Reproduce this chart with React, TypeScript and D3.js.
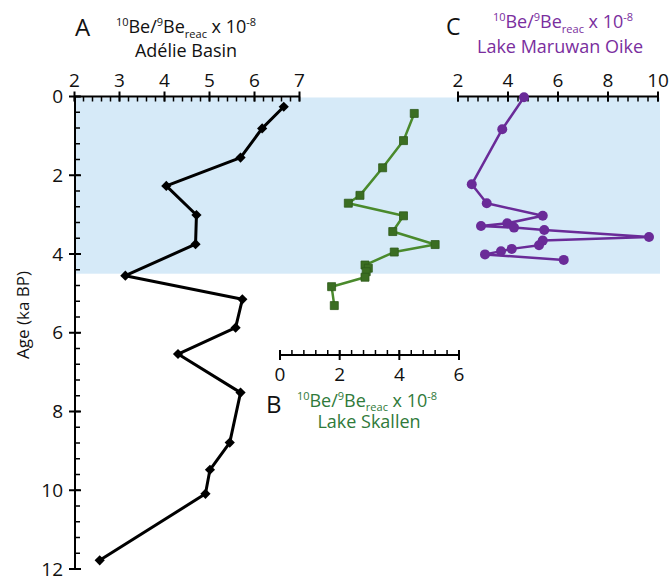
import React from "react";
import * as d3 from "d3";

// Panel A: Adélie Basin
const adelieAge = [0.26, 0.81, 1.55, 2.27, 3.01, 3.75, 4.55, 5.15, 5.87, 6.54, 7.52, 8.79, 9.48, 10.09, 11.78];
const adelieVal = [6.65, 6.17, 5.69, 4.04, 4.71, 4.69, 3.13, 5.73, 5.58, 4.30, 5.69, 5.45, 5.01, 4.91, 2.56];
// Panel B: Lake Skallen
const skallenAge = [0.43, 1.12, 1.81, 2.51, 2.71, 3.03, 3.43, 3.76, 3.95, 4.28, 4.36, 4.45, 4.59, 4.83, 5.31];
const skallenVal = [4.5, 4.14, 3.44, 2.68, 2.29, 4.14, 3.78, 5.2, 3.83, 2.85, 2.96, 2.89, 2.85, 1.73, 1.82];
// Panel C: Lake Maruwan Oike
const maruwanAge = [0.02, 0.83, 2.23, 2.71, 3.03, 3.22, 3.29, 3.33, 3.39, 3.57, 3.66, 3.78, 3.87, 3.93, 4.01, 4.15];
const maruwanVal = [4.64, 3.77, 2.55, 3.15, 5.39, 3.97, 2.92, 4.24, 5.45, 9.64, 5.39, 5.24, 4.15, 3.72, 3.08, 6.23];

const ageTicks = [0, 2, 4, 6, 8, 10, 12];
const aTicks = [2, 3, 4, 5, 6, 7];
const bTicks = [0, 2, 4, 6];
const cTicks = [2, 4, 6, 8, 10];
const shadeRange = [0, 4.5];

const FONT = "'Open Sans', 'Noto Sans', sans-serif";
const GREEN_T = "#2f7a3a";
const GREEN_L = "#4a8a2c";
const GREEN_M = "#3b6e22";
const PURPLE_T = "#7a2e9e";
const PURPLE = "#6a2b98";
const SHADE = "#d6eaf8";

function BeLabel({ x, y, color, sub = 5 }: { x: number; y: number; color: string; sub?: number }) {
  return (
    <text x={x} y={y} textAnchor="middle" fill={color} fontSize={18} style={{ whiteSpace: "pre" }}>
      <tspan fontSize={11} dy={-7}>10</tspan>
      <tspan dy={7}>Be/</tspan>
      <tspan fontSize={11} dy={-7}>9</tspan>
      <tspan dy={7}>Be</tspan>
      <tspan fontSize={11} dy={sub}>reac</tspan>
      <tspan dy={-sub}>{" x 10"}</tspan>
      <tspan fontSize={11} dy={-7}>-8</tspan>
    </text>
  );
}

function HAxis({ scale, ticks, minorStep, y, labelDir }: { scale: d3.ScaleLinear<number, number>; ticks: number[]; minorStep: number; y: number; labelDir: number }) {
  const [d0, d1] = scale.domain();
  const minors = d3.range(d0, d1 + 1e-9, minorStep);
  return (
    <g>
      <line x1={scale(d0)} x2={scale(d1)} y1={y} y2={y} stroke="#000" strokeWidth={2} />
      {minors.map((m, i) => (
        <line key={"m" + i} x1={scale(m)} x2={scale(m)} y1={y} y2={y - labelDir * 5} stroke="#000" strokeWidth={1.5} />
      ))}
      {ticks.map((t) => (
        <g key={t}>
          <line x1={scale(t)} x2={scale(t)} y1={y - 5} y2={y + 5} stroke="#000" strokeWidth={2} />
          <text x={scale(t)} y={labelDir < 0 ? y - 10 : y + 26} textAnchor="middle" fontSize={19} fill="#111">{t}</text>
        </g>
      ))}
    </g>
  );
}

export default function App() {
  const W = 671, H = 579;
  const yAge = d3.scaleLinear().domain([0, 12]).range([96.5, 569]);
  const xA = d3.scaleLinear().domain([2, 7]).range([74.5, 299.5]);
  const xB = d3.scaleLinear().domain([0, 6]).range([280, 459]);
  const xC = d3.scaleLinear().domain([2, 10]).range([458, 658]);
  const axisX = 75;

  const lineA = d3.line<number>().x((v) => xA(v)).y((_, i) => yAge(adelieAge[i]));
  const lineB = d3.line<number>().x((v) => xB(v)).y((_, i) => yAge(skallenAge[i]));
  const lineC = d3.line<number>().x((v) => xC(v)).y((_, i) => yAge(maruwanAge[i]));
  const diamond = d3.symbol(d3.symbolSquare, 52)() as string;
  const square = d3.symbol(d3.symbolSquare, 64)() as string;

  const ageMinors = d3.range(0, 12 + 1e-9, 0.4);

  return (
    <div style={{ position: "absolute", left: 0, top: 0 }}>
      <svg width={W} height={H} style={{ display: "block", fontFamily: FONT }}>
        <rect x={0} y={0} width={W} height={H} fill="#fff" />
        <rect x={axisX} y={yAge(shadeRange[0]) + 1} width={660 - axisX} height={yAge(shadeRange[1]) - yAge(shadeRange[0]) - 1} fill={SHADE} />

        {/* Left age axis */}
        <line x1={axisX} x2={axisX} y1={yAge(0)} y2={yAge(12)} stroke="#000" strokeWidth={2} />
        {ageMinors.map((m, i) => (
          <line key={"am" + i} x1={axisX} x2={axisX + 5} y1={yAge(m)} y2={yAge(m)} stroke="#000" strokeWidth={1.5} />
        ))}
        {ageTicks.map((t) => (
          <g key={t}>
            <line x1={axisX - 6} x2={axisX + 6} y1={yAge(t)} y2={yAge(t)} stroke="#000" strokeWidth={2} />
            <text x={63} y={yAge(t) + 6.5} textAnchor="end" fontSize={19} fill="#111">{t}</text>
          </g>
        ))}
        <text transform={`translate(29,315) rotate(-90)`} textAnchor="middle" fontSize={17} fill="#111">Age (ka BP)</text>

        {/* Panel A */}
        <HAxis scale={xA} ticks={aTicks} minorStep={0.2} y={96.5} labelDir={-1} />
        <text x={75} y={36} fontSize={24} fill="#111">A</text>
        <BeLabel x={186} y={33} color="#111" />
        <text x={186} y={57} textAnchor="middle" fontSize={18} fill="#111">Adélie Basin</text>
        <path d={lineA(adelieVal) as string} fill="none" stroke="#000" strokeWidth={3} strokeLinejoin="round" />
        {adelieVal.map((v, i) => (
          <path key={i} d={diamond} transform={`translate(${xA(v)},${yAge(adelieAge[i])}) rotate(45)`} fill="#000" />
        ))}

        {/* Panel B */}
        <HAxis scale={xB} ticks={bTicks} minorStep={0.4} y={355} labelDir={1} />
        <text x={266} y={413} fontSize={24} fill="#111">B</text>
        <BeLabel x={367} y={407} color={GREEN_T} sub={4} />
        <text x={369} y={428} textAnchor="middle" fontSize={18} fill={GREEN_T}>Lake Skallen</text>
        <path d={lineB(skallenVal) as string} fill="none" stroke={GREEN_L} strokeWidth={2.5} strokeLinejoin="round" />
        {skallenVal.map((v, i) => (
          <path key={i} d={square} transform={`translate(${xB(v)},${yAge(skallenAge[i])})`} fill={GREEN_M} stroke="#2f5a1a" strokeWidth={0.8} />
        ))}

        {/* Panel C */}
        <HAxis scale={xC} ticks={cTicks} minorStep={0.4} y={96.5} labelDir={-1} />
        <text x={446} y={35} fontSize={23} fill="#111">C</text>
        <BeLabel x={563} y={28} color={PURPLE_T} />
        <text x={560} y={53} textAnchor="middle" fontSize={18} fill={PURPLE_T}>Lake Maruwan Oike</text>
        <path d={lineC(maruwanVal) as string} fill="none" stroke={PURPLE} strokeWidth={2.5} strokeLinejoin="round" />
        {maruwanVal.map((v, i) => (
          <circle key={i} cx={xC(v)} cy={yAge(maruwanAge[i])} r={5} fill={PURPLE} />
        ))}
      </svg>
    </div>
  );
}
